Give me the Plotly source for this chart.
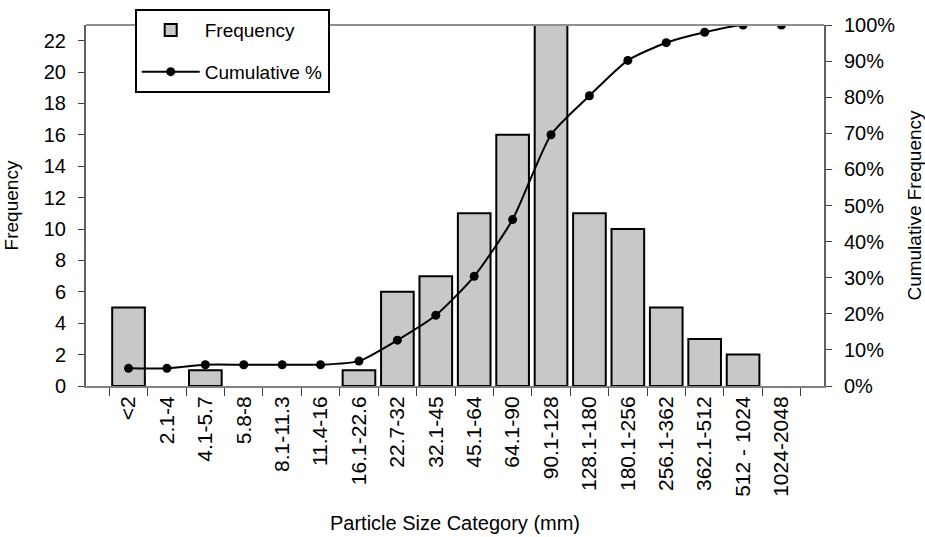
import plotly.graph_objects as go

categories = ["<2", "2.1-4", "4.1-5.7", "5.8-8", "8.1-11.3", "11.4-16", "16.1-22.6",
              "22.7-32", "32.1-45", "45.1-64", "64.1-90", "90.1-128", "128.1-180",
              "180.1-256", "256.1-362", "362.1-512", "512 - 1024", "1024-2048"]
frequency = [5, 0, 1, 0, 0, 0, 1, 6, 7, 11, 16, 24, 11, 10, 5, 3, 2, 0]
cumulative = [0.049, 0.049, 0.059, 0.059, 0.059, 0.059, 0.069, 0.127, 0.196, 0.304,
              0.461, 0.696, 0.804, 0.902, 0.951, 0.980, 1.0, 1.0]

font = "Liberation Sans, Arial, sans-serif"

fig = go.Figure()
# empty categories get no outline (like the original)
outline = [2 if v else 0 for v in frequency]
fig.add_trace(go.Bar(x=categories, y=frequency, name="Frequency",
                     marker=dict(color="#c8c8c8", line=dict(color="black", width=outline)),
                     legendgroup="a"))
fig.add_trace(go.Scatter(x=categories, y=cumulative, name="Cumulative %", yaxis="y2",
                         mode="lines+markers", line=dict(color="black", width=2, shape="spline", smoothing=0.6),
                         marker=dict(color="black", size=9, symbol="circle"),
                         legendgroup="b"))

fig.update_layout(
    width=925, height=537,
    margin=dict(l=86, r=101, t=25, b=151, autoexpand=False),
    plot_bgcolor="white", paper_bgcolor="white",
    font=dict(family=font, size=20, color="black"),
    bargap=0.15,
    showlegend=True,
    legend=dict(x=0.066, y=1.044, xanchor="left", yanchor="top",
                bgcolor="white", bordercolor="black", borderwidth=2,
                font=dict(size=19), tracegroupgap=14, itemwidth=58),
    xaxis=dict(title=dict(text="Particle Size Category (mm)", font=dict(size=20), standoff=20),
               tickangle=-90, ticks="outside", ticklen=8, tickson="boundaries",
               tickcolor="#404040", showline=True, linecolor="#808080", linewidth=2,
               tickfont=dict(size=21), showgrid=False, automargin=False),
    yaxis=dict(title=dict(text="Frequency", font=dict(size=19), standoff=20),
               range=[0, 23], dtick=2, ticks="outside", ticklen=6, tickcolor="#404040",
               showline=True, linecolor="#606060", linewidth=2, showgrid=False,
               zeroline=False, tickfont=dict(size=20), ticklabelstandoff=8, automargin=False),
    yaxis2=dict(title=dict(text="Cumulative Frequency", font=dict(size=19), standoff=13),
                overlaying="y", side="right", range=[0, 1], dtick=0.1, tickformat=".0%",
                ticks="outside", ticklen=6, tickcolor="#404040",
                showline=True, linecolor="#606060", linewidth=2, showgrid=False,
                zeroline=False, tickfont=dict(size=20), ticklabelstandoff=8, automargin=False),
)

fig.add_shape(type="line", xref="paper", yref="paper", x0=0, x1=1, y0=1, y1=1,
              line=dict(color="#909090", width=2))

fig.write_html("out.html", config={"displayModeBar": False},
               post_script="document.body.style.margin='0px';")
